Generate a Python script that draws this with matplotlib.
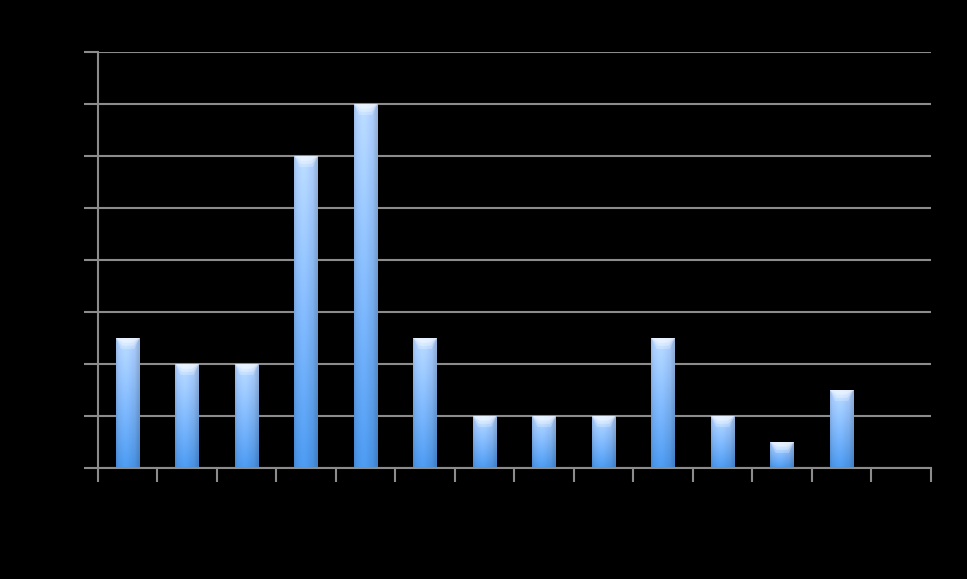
import numpy as np
import matplotlib
matplotlib.use("Agg")
import matplotlib.pyplot as plt
from matplotlib.patches import Polygon

# bin edges (tick labels) and counts per bin
edges = [str(i) for i in range(15)]
counts = [5, 4, 4, 12, 14, 5, 2, 2, 2, 5, 2, 1, 3, 0]
yticks = [0, 2, 4, 6, 8, 10, 12, 14, 16]

fig = plt.figure(figsize=(9.67, 5.79), dpi=100, facecolor="black")
ax = fig.add_axes([0.1013, 0.1917, 0.8614, 0.7185], facecolor="black")

pos = np.arange(len(counts)) + 0.5
w = 0.4
bars = ax.bar(pos, counts, width=w, color="#7fb0ee", zorder=2, linewidth=0)

ax.set_xticks(np.arange(len(edges)))
ax.set_xticklabels(edges)
ax.set_yticks(yticks)
ax.tick_params(colors="#8c8c8c", labelcolor="black", length=10, width=1.5,
               direction="out", labelsize=9)
ax.grid(axis="y", color="#8c8c8c", linewidth=1.5, zorder=0)
for s in ["top", "right"]:
    ax.spines[s].set_visible(False)
for s in ["left", "bottom"]:
    ax.spines[s].set_color("#8c8c8c")
    ax.spines[s].set_linewidth(1.5)
    ax.spines[s].set_zorder(3)

# gradient fill for each bar
top_c = np.array([172, 202, 245]) / 255
bot_c = np.array([70, 142, 222]) / 255
nx, ny = 40, 100
xs = np.linspace(0, 1, nx)
shade = 1.0 + 0.10 * np.exp(-((xs - 0.4) / 0.3) ** 2) - 0.10 * np.clip((np.abs(xs - 0.45) - 0.35) / 0.15, 0, 1)
for b, v in zip(bars, counts):
    if v <= 0:
        continue
    x0, x1 = b.get_x(), b.get_x() + b.get_width()
    t = np.linspace(0, 1, ny)[:, None, None]
    img = bot_c * (1 - t) + top_c * t
    img = img * shade[None, :, None]
    img = np.clip(img, 0, 1)
    im = ax.imshow(img, extent=(x0, x1, 0, v), origin="lower", aspect="auto",
                   zorder=2, interpolation="bilinear")
    im.set_clip_path(b)
    # soft top bevel, a few stacked layers
    bw = x1 - x0
    for k, (dy, a) in enumerate([(0.42, 0.25), (0.30, 0.3), (0.18, 0.35)]):
        dx = bw * (0.22 + 0.04 * k)
        bev = Polygon([(x0, v), (x1, v), (x1 - dx, v - dy), (x0 + dx, v - dy)],
                      closed=True, facecolor="white", alpha=a, linewidth=0,
                      zorder=2.5)
        ax.add_patch(bev)

ax.set_xlim(0, len(counts))
ax.set_ylim(0, 16)

fig.savefig("out.png", dpi=100, facecolor="black")
